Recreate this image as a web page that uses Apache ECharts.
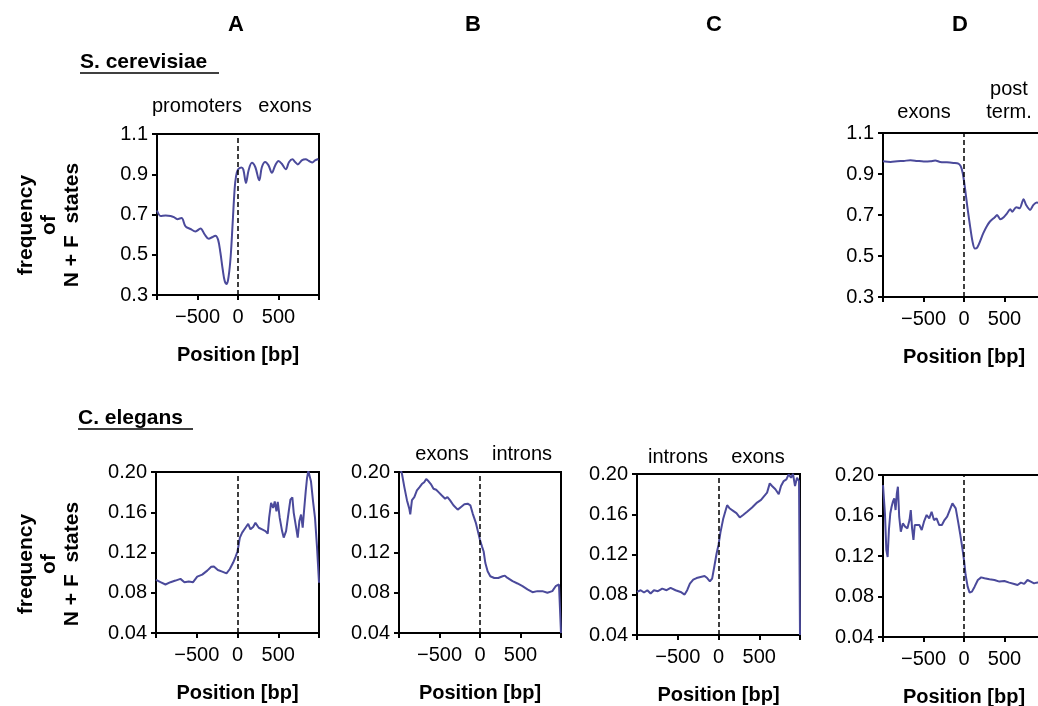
<!DOCTYPE html>
<html><head><meta charset="utf-8">
<script src="https://cdn.jsdelivr.net/npm/echarts@6/dist/echarts.min.js"></script>
<style>html,body{margin:0;padding:0;background:#fff}#c{width:1038px;height:706px}</style>
</head><body><div id="c"></div>
<script>
// ---- Data (position in bp, frequency of N + F states) ----
// S. cerevisiae, panel A (promoters | exons)
const scA_pos  = [-1000,-955,-893,-832,-791,-750,-697,-648,-586,-525,-463,-410,-361,-320,-279,-246,-217,-189,-164,-139,-115,-90,-66,-41,-25,0,41,66,98,131,172,213,262,295,336,377,418,459,500,541,590,631,672,705,738,787,836,877,918,951,992];
const scA_freq = [0.72,0.693,0.695,0.693,0.687,0.677,0.682,0.641,0.628,0.616,0.630,0.600,0.579,0.587,0.595,0.575,0.51,0.428,0.37,0.355,0.395,0.494,0.657,0.83,0.887,0.923,0.933,0.923,0.857,0.92,0.957,0.936,0.87,0.936,0.961,0.944,0.907,0.944,0.966,0.952,0.925,0.961,0.974,0.961,0.949,0.969,0.974,0.966,0.959,0.969,0.976];
// S. cerevisiae, panel D (exons | post term.)
const scD_pos  = [-1000,-906,-824,-743,-661,-580,-498,-416,-355,-294,-212,-131,-69,-41,-16,12,41,73,106,135,163,196,237,278,318,380,408,449,490,531,571,596,645,686,735,767,816,857,898,950,1000];
const scD_freq = [0.962,0.959,0.962,0.964,0.967,0.964,0.961,0.962,0.966,0.959,0.957,0.954,0.951,0.938,0.905,0.831,0.741,0.651,0.569,0.536,0.541,0.569,0.61,0.643,0.667,0.689,0.7,0.679,0.689,0.708,0.728,0.716,0.738,0.733,0.777,0.749,0.725,0.749,0.761,0.755,0.76];
// C. elegans, panel A
const ceA_pos  = [-1000,-945,-884,-822,-761,-700,-651,-598,-545,-494,-433,-371,-322,-290,-241,-188,-135,-94,-53,-24,0,29,57,98,131,159,192,220,261,302,343,371,388,412,437,457,478,494,518,547,567,596,629,649,673,690,710,739,759,780,800,816,837,853,869,886,902,927,951,976,1000];
const ceA_freq = [0.0928,0.0905,0.0882,0.0905,0.0921,0.0938,0.0905,0.0911,0.0905,0.096,0.098,0.102,0.1059,0.1062,0.1026,0.101,0.0993,0.1036,0.110,0.1157,0.121,0.1348,0.1397,0.1446,0.1485,0.143,0.1453,0.1495,0.1446,0.143,0.1413,0.1387,0.1544,0.1692,0.1643,0.1708,0.161,0.1702,0.1544,0.1413,0.1348,0.1413,0.161,0.1725,0.1748,0.1594,0.1495,0.1348,0.1512,0.1577,0.1446,0.161,0.1807,0.1938,0.201,0.20,0.1905,0.1708,0.1544,0.125,0.09];
// C. elegans, panel B (exons | introns)
const ceB_pos  = [-990,-963,-934,-902,-873,-861,-840,-811,-779,-746,-718,-689,-664,-635,-607,-574,-541,-512,-471,-430,-402,-369,-328,-275,-234,-193,-152,-119,-90,-49,-20,0,25,45,66,94,127,176,225,279,307,340,402,463,525,586,648,709,770,832,893,934,975,996,1000];
const ceB_freq = [0.205,0.198,0.185,0.172,0.1636,0.158,0.172,0.175,0.1817,0.185,0.188,0.1899,0.1931,0.1908,0.188,0.1833,0.1823,0.18,0.1767,0.1735,0.1751,0.1718,0.1669,0.1626,0.1653,0.1679,0.1685,0.1669,0.1587,0.1489,0.139,0.1325,0.1259,0.121,0.1095,0.1013,0.0964,0.0947,0.0947,0.0964,0.097,0.0947,0.0915,0.0892,0.0865,0.0833,0.0806,0.0816,0.0816,0.08,0.0816,0.0865,0.0882,0.0865,0.04];
// C. elegans, panel C (introns | exons)
const ceC_pos  = [-1000,-955,-914,-873,-833,-792,-743,-690,-637,-588,-527,-465,-416,-384,-351,-310,-269,-220,-171,-139,-106,-78,-49,-24,0,24,57,86,106,139,180,220,261,302,351,412,473,522,555,596,629,657,698,739,767,800,833,861,890,914,939,963,988,1000];
const ceC_freq = [0.0828,0.0845,0.0822,0.0845,0.0812,0.0845,0.0835,0.0861,0.0845,0.0868,0.0845,0.0828,0.0802,0.0845,0.0911,0.095,0.0966,0.0976,0.0986,0.0966,0.0934,0.096,0.1091,0.1207,0.1295,0.142,0.1552,0.1634,0.169,0.1657,0.1634,0.1611,0.1568,0.1592,0.1624,0.1667,0.1716,0.1743,0.1776,0.1815,0.1907,0.1881,0.1848,0.1799,0.1881,0.193,0.1947,0.1996,0.1963,0.2,0.1881,0.1963,0.193,0.04];
// C. elegans, panel D
const ceD_pos  = [-1000,-976,-959,-943,-927,-910,-894,-878,-861,-845,-829,-816,-800,-780,-755,-727,-698,-673,-657,-641,-624,-608,-584,-551,-522,-494,-461,-429,-400,-371,-339,-306,-273,-241,-208,-176,-143,-127,-102,-73,-45,-20,0,20,45,69,98,131,171,212,253,314,376,437,498,559,620,661,702,743,784,824,865,894,950,1000];
const ceD_freq = [0.190,0.162,0.126,0.119,0.1457,0.162,0.1687,0.1736,0.177,0.1654,0.1818,0.1884,0.1588,0.144,0.1522,0.149,0.1473,0.1555,0.1654,0.1473,0.1358,0.1506,0.1522,0.1506,0.1457,0.1539,0.1605,0.1572,0.1637,0.1555,0.1572,0.1506,0.1506,0.1555,0.1588,0.1654,0.172,0.1736,0.167,0.1539,0.1407,0.1276,0.116,0.1012,0.0897,0.0838,0.0848,0.0897,0.0963,0.0989,0.098,0.097,0.0963,0.0947,0.0953,0.0937,0.0924,0.0914,0.0937,0.0924,0.0963,0.0947,0.093,0.0937,0.094,0.093];

// axis ranges / ticks
const xRange = [-1000, 1000], xStep = 500;
const yRangeSc = [0.3, 1.1], yStepSc = 0.2;
const yRangeCe = [0.04, 0.20], yStepCe = 0.04;

// panel letters, species, titles
const panelLetters = ['A', 'B', 'C', 'D'];
const species = ['S. cerevisiae', 'C. elegans'];
const xTitle = 'Position [bp]';
const yTitle = 'frequency\nof\nN + F  states';

// ---- Layout ----
const FONT = '"Liberation Sans", Arial, sans-serif';
const LINE_COLOR = '#4b4a9b';
const panels = [
  {pos: scA_pos, freq: scA_freq, grid: {left: 157, top: 134, width: 162, height: 161}, y: yRangeSc, step: yStepSc, dig: 1, smooth: 0.35},
  {pos: scD_pos, freq: scD_freq, grid: {left: 883, top: 133, width: 162, height: 164}, y: yRangeSc, step: yStepSc, dig: 1, smooth: 0.3},
  {pos: ceA_pos, freq: ceA_freq, grid: {left: 156, top: 472, width: 163, height: 161}, y: yRangeCe, step: yStepCe, dig: 2, smooth: false},
  {pos: ceB_pos, freq: ceB_freq, grid: {left: 399, top: 472, width: 162, height: 161}, y: yRangeCe, step: yStepCe, dig: 2, smooth: false},
  {pos: ceC_pos, freq: ceC_freq, grid: {left: 637, top: 474, width: 163, height: 161}, y: yRangeCe, step: yStepCe, dig: 2, smooth: false},
  {pos: ceD_pos, freq: ceD_freq, grid: {left: 883, top: 475, width: 162, height: 162}, y: yRangeCe, step: yStepCe, dig: 2, smooth: false}
];

const grids = [], xAxes = [], yAxes = [], series = [];
panels.forEach((p, i) => {
  grids.push(Object.assign({show: true, borderColor: '#000', borderWidth: 2, backgroundColor: 'transparent',
    containLabel: false, outerBoundsMode: 'none'}, p.grid));
  xAxes.push({
    type: 'value', gridIndex: i, min: xRange[0], max: xRange[1], interval: xStep,
    name: xTitle, nameLocation: 'middle', nameGap: 50,
    nameTextStyle: {fontFamily: FONT, fontWeight: 'bold', fontSize: 20, color: '#000'},
    axisLine: {show: true, onZero: false, lineStyle: {color: '#000', width: 2}},
    axisTick: {show: true, length: 5, lineStyle: {color: '#000', width: 2}},
    splitLine: {show: false},
    axisLabel: {fontFamily: FONT, fontSize: 20, color: '#000', margin: 12,
      formatter: v => (Math.abs(v) >= 1000 ? '' : (v < 0 ? '\u2212' + Math.abs(v) : String(v)))}
  });
  yAxes.push({
    type: 'value', gridIndex: i, min: p.y[0], max: p.y[1], interval: p.step,
    axisLine: {show: true, onZero: false, lineStyle: {color: '#000', width: 2}},
    axisTick: {show: true, length: 5, lineStyle: {color: '#000', width: 2}},
    splitLine: {show: false},
    axisLabel: {fontFamily: FONT, fontSize: 20, color: '#000', margin: 9,
      formatter: v => v.toFixed(p.dig)}
  });
  series.push({
    type: 'line', xAxisIndex: i, yAxisIndex: i,
    data: p.pos.map((x, k) => [x, p.freq[k]]),
    showSymbol: false, symbol: 'none', smooth: p.smooth, clip: true,
    lineStyle: {color: LINE_COLOR, width: 2},
    markLine: {silent: true, symbol: 'none', animation: false,
      label: {show: false},
      lineStyle: {color: '#000', width: 1.5, type: [5, 3]},
      data: [{xAxis: 0}]}
  });
});

function txt(x, y, text, opts) {
  return Object.assign({type: 'text', x: x, y: y, silent: true,
    style: Object.assign({text: text, fill: '#000', align: 'center', verticalAlign: 'middle',
      font: '20px ' + FONT}, opts || {})});
}
const graphics = [
  txt(236, 25, panelLetters[0], {font: 'bold 22px ' + FONT}),
  txt(473, 25, panelLetters[1], {font: 'bold 22px ' + FONT}),
  txt(714, 25, panelLetters[2], {font: 'bold 22px ' + FONT}),
  txt(960, 25, panelLetters[3], {font: 'bold 22px ' + FONT}),
  txt(80, 62, species[0], {align: 'left', font: 'bold 21px ' + FONT}),
  {type: 'line', silent: true, shape: {x1: 80, y1: 73, x2: 219, y2: 73}, style: {stroke: '#000', lineWidth: 1.5}},
  txt(78, 418, species[1], {align: 'left', font: 'bold 21px ' + FONT}),
  {type: 'line', silent: true, shape: {x1: 78, y1: 429, x2: 193, y2: 429}, style: {stroke: '#000', lineWidth: 1.5}},
  // region annotations
  txt(197, 106, 'promoters'), txt(285, 106, 'exons'),
  txt(924, 112, 'exons'), txt(1009, 89, 'post'), txt(1009, 112, 'term.'),
  txt(442, 454, 'exons'), txt(522, 454, 'introns'),
  txt(678, 457, 'introns'), txt(758, 457, 'exons'),
  // y titles
  Object.assign(txt(49, 225, yTitle, {font: 'bold 21px ' + FONT, lineHeight: 23}), {rotation: Math.PI / 2}),
  Object.assign(txt(49, 564, yTitle, {font: 'bold 21px ' + FONT, lineHeight: 23}), {rotation: Math.PI / 2})
];

const chart = echarts.init(document.getElementById('c'), null, {renderer: 'canvas'});
chart.setOption({
  animation: false,
  backgroundColor: '#fff',
  grid: grids, xAxis: xAxes, yAxis: yAxes, series: series,
  graphic: graphics
});
</script></body></html>
